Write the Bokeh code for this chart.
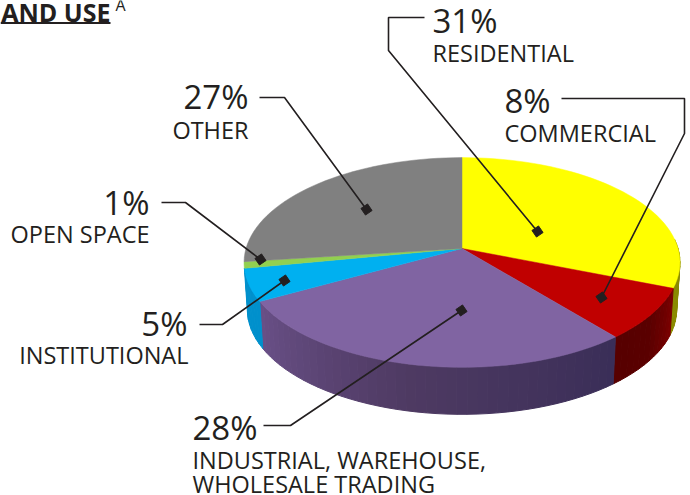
from math import sin, cos, radians
from bokeh.plotting import figure
from bokeh.models import Range1d
from bokeh.core.properties import value
from bokeh.embed import file_html
from bokeh.resources import INLINE

categories = ["RESIDENTIAL", "COMMERCIAL", "INDUSTRIAL, WAREHOUSE,\nWHOLESALE TRADING",
              "INSTITUTIONAL", "OPEN SPACE", "OTHER"]
shares = [31, 8, 28, 5, 1, 27]
top_colors = ["#FFFF00", "#C00000", "#8064A2", "#00B0F0", "#92D050", "#808080"]
side_colors = [("#6E6E00", "#8A8A00", "#8A8A00"), ("#7A0000", "#5A0000", "#560000"),
               ("#3A2E58", "#4E3A62", "#6A5088"), ("#0090CC", "#0090CC", "#0090CC"),
               None, None]

CX, CY, A, B, K, DEPTH, BOTTOM_SCALE = 461.5, 248, 216, 103, 0.1333, 47, 0.985
INK = "#231F20"
FONT = value("Open Sans")


def project(deg):
    t = radians(deg)
    u, v = sin(t), -cos(t)
    d = 1 - K * v
    return CX + A * u / d, CY + B * v / d


def mix(c1, c2, f):
    a = [int(c1[i:i + 2], 16) for i in (1, 3, 5)]
    b = [int(c2[i:i + 2], 16) for i in (1, 3, 5)]
    return "#%02x%02x%02x" % tuple(round(x + (y - x) * f) for x, y in zip(a, b))


def ramp(stops, f):
    return mix(stops[0], stops[1], f * 2) if f < 0.5 else mix(stops[1], stops[2], f * 2 - 1)


p = figure(width=690, height=495, output_backend="svg", toolbar_location=None,
           x_range=Range1d(0, 690), y_range=Range1d(495, 0),
           min_border=0, outline_line_color=None, background_fill_color="white",
           border_fill_color="white")
p.axis.visible = False
p.grid.visible = False

start = 0.0
xs_side, ys_side, c_side = [], [], []
xs_top, ys_top, c_top = [], [], []
for s, ct, cs in zip(shares, top_colors, side_colors):
    end = start + s * 3.6
    n = max(2, int(s * 1.5))
    angs = [start + (end - start) * i / n for i in range(n + 1)]
    pts = [project(a) for a in angs]
    xs_top.append([CX] + [q[0] for q in pts])
    ys_top.append([CY] + [q[1] for q in pts])
    c_top.append(ct)
    if cs:
        for i in range(n):
            if angs[i + 1] < 85:   # back of the disc: hidden behind the top
                continue
            (x0, y0), (x1, y1) = pts[i], pts[i + 1]
            bx0 = CX + (x0 - CX) * BOTTOM_SCALE
            bx1 = CX + (x1 - CX) * BOTTOM_SCALE
            xs_side.append([x0, x1, bx1, bx0])
            ys_side.append([y0, y1, y1 + DEPTH, y0 + DEPTH])
            c_side.append(ramp(cs, i / n))
    start = end

p.patches(xs_side, ys_side, fill_color=c_side, line_color=c_side, line_width=1)
p.patches(xs_top, ys_top, fill_color=c_top, line_color=c_top, line_width=0.5)

# leaders
leaders_x = [[424, 388, 388, 537], [561, 684, 684, 601], [259, 284, 366],
             [161, 185, 260], [199, 222, 284], [263, 290, 461]]
leaders_y = [[17, 17, 50, 231], [98, 98, 133, 297], [97, 97, 209],
             [202, 202, 259], [324, 324, 280], [425, 425, 310]]
p.multi_line(leaders_x, leaders_y, line_color=INK, line_width=1.6)
p.scatter([q[-1] for q in leaders_x], [q[-1] for q in leaders_y], marker="square", size=8,
          angle=0.6, fill_color=INK, line_color=INK)

# labels: order follows `categories`
pct_x = [432, 504, 192, 187, 149, 248]
pct_y = [20, 100, 427, 323, 202, 96]
align = ["left", "left", "left", "right", "right", "right"]
label_x = [432, 504, 192, 188, 149, 248]
label_y = [52, 132, 459, 354, 233, 129]
labels = [f"{s}%" for s in shares]
p.text(pct_x, pct_y, text=labels, text_font=FONT, text_font_size="33px", text_color=INK,
       text_align=align, text_baseline="middle")
line_x, line_y, line_t, line_a = [], [], [], []
for x, y, c, a in zip(label_x, label_y, categories, align):
    for j, t in enumerate(c.split("\n")):
        line_x.append(x)
        line_y.append(y + j * 24)
        line_t.append(t)
        line_a.append(a)
p.text(line_x, line_y, text=line_t, text_font=FONT, text_font_size="23.5px", text_color=INK,
       text_align=line_a, text_baseline="middle")

# heading fragment
p.text([110], [11], text=["AND USE"], text_font=FONT, text_font_size="25px", text_font_style="bold",
       text_color=INK, text_align="right", text_baseline="middle")
p.line([0, 110], [22.5, 22.5], line_color=INK, line_width=2)
p.text([115], [4], text=["A"], text_font=FONT, text_font_size="16px", text_color=INK,
       text_align="left", text_baseline="middle")

open("out.html", "w").write(file_html(p, INLINE))
